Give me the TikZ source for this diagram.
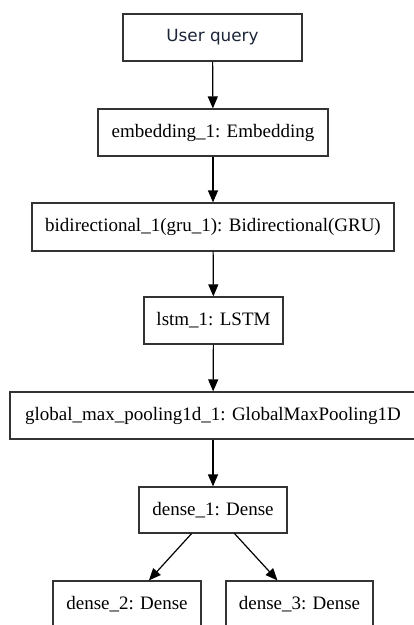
\documentclass[tikz,border=0pt]{standalone}
\usepackage{fontspec}
\setmainfont{Liberation Serif}
\newfontfamily\queryfont{DejaVu Sans}
\usepackage{xcolor}
\usepackage{tikz}
\usetikzlibrary{arrows.meta}
\definecolor{querytext}{HTML}{1C2538}
\definecolor{edgegray}{HTML}{333333}

\begin{document}
\begin{tikzpicture}[x=1pt,y=-1pt,
	layer/.style={draw=edgegray,line width=1.2pt,inner sep=0pt,
		minimum height=47pt,font=\fontsize{19}{21}\selectfont},
	flow/.style={-{Triangle[length=12pt,width=10pt]},line width=1.2pt,draw=black}]
	\useasboundingbox (0,0) rectangle (414,625);
	
	% 各层
	\node[layer,minimum width=179pt,text=querytext,font=\queryfont\fontsize{16.8}{19}\selectfont]
		(query) at (212.5,37.5) {User query};
	\node[layer,minimum width=230pt] (embed) at (213,132.5) {embedding\_1: Embedding};
	\node[layer,minimum width=362pt,minimum height=48pt] (bidir) at (213,227) {bidirectional\_1(gru\_1): Bidirectional(GRU)};
	\node[layer,minimum width=139pt] (lstm) at (213.5,320.5) {lstm\_1: LSTM};
	\node[layer,minimum width=406pt] (pool) at (213,415.5) {global\_max\_pooling1d\_1: GlobalMaxPooling1D};
	\node[layer,minimum width=148pt,minimum height=46pt] (dense1) at (213,510) {dense\_1: Dense};
	\node[layer,minimum width=148pt] (dense2) at (127,604.5) {dense\_2: Dense};
	\node[layer,minimum width=147pt] (dense3) at (299.5,604.5) {dense\_3: Dense};
	
	% 连线
	\foreach \a/\b in {query/embed,embed/bidir,bidir/lstm,lstm/pool,pool/dense1,dense1/dense2,dense1/dense3}
	\draw[flow] (\a) -- (\b);
\end{tikzpicture}
\end{document}
